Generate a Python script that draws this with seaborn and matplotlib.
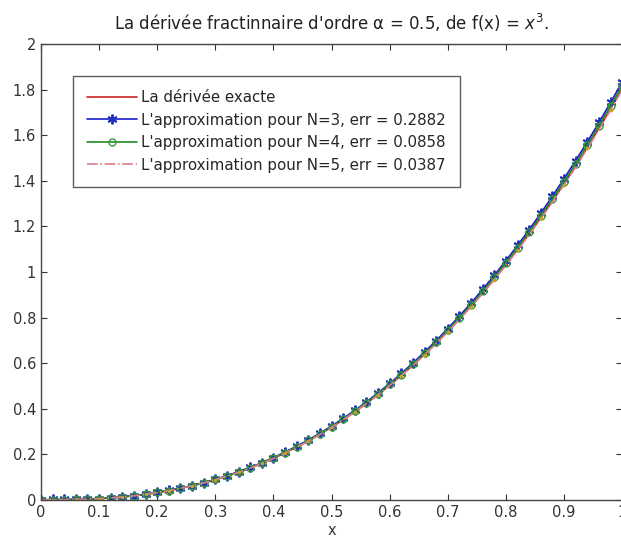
import matplotlib
matplotlib.use("Agg")
import matplotlib.pyplot as plt
import seaborn as sns
import numpy as np
import pandas as pd
from matplotlib.ticker import FormatStrFormatter

# x grid (step 0.02) and curves
x = np.linspace(0, 1, 51)

exact = [0.0000, 0.0001, 0.0006, 0.0016, 0.0033, 0.0057, 0.0090, 0.0132, 0.0185, 0.0248,
         0.0323, 0.0410, 0.0509, 0.0622, 0.0749, 0.0890, 0.1046, 0.1217, 0.1404, 0.1607,
         0.1827, 0.2064, 0.2318, 0.2591, 0.2882, 0.3192, 0.3520, 0.3869, 0.4237, 0.4625,
         0.5034, 0.5465, 0.5916, 0.6389, 0.6884, 0.7401, 0.7942, 0.8505, 0.9091, 0.9701,
         1.0335, 1.0993, 1.1676, 1.2383, 1.3115, 1.3873, 1.4657, 1.5467, 1.6303, 1.7165,
         1.8054]
approx_n3 = [0.000, 0.002, 0.002, 0.003, 0.004, 0.006, 0.009, 0.013, 0.019, 0.025,
             0.033, 0.042, 0.052, 0.063, 0.076, 0.090, 0.106, 0.124, 0.143, 0.163,
             0.186, 0.210, 0.236, 0.263, 0.293, 0.324, 0.358, 0.393, 0.430, 0.470,
             0.511, 0.555, 0.601, 0.649, 0.699, 0.752, 0.807, 0.864, 0.924, 0.986,
             1.050, 1.117, 1.186, 1.258, 1.333, 1.410, 1.489, 1.571, 1.656, 1.744,
             1.834]
approx_n4 = [0.000, 0.001, 0.001, 0.002, 0.003, 0.006, 0.009, 0.013, 0.019, 0.025,
             0.033, 0.041, 0.051, 0.063, 0.075, 0.090, 0.105, 0.123, 0.141, 0.162,
             0.184, 0.208, 0.233, 0.261, 0.290, 0.321, 0.354, 0.390, 0.427, 0.466,
             0.507, 0.550, 0.596, 0.643, 0.693, 0.745, 0.800, 0.856, 0.915, 0.977,
             1.041, 1.107, 1.176, 1.247, 1.321, 1.397, 1.476, 1.558, 1.642, 1.729,
             1.818]
approx_n5 = [0.000, 0.000, 0.001, 0.002, 0.003, 0.006, 0.009, 0.013, 0.018, 0.025,
             0.032, 0.041, 0.051, 0.062, 0.075, 0.089, 0.104, 0.121, 0.140, 0.160,
             0.182, 0.206, 0.231, 0.258, 0.287, 0.318, 0.351, 0.386, 0.422, 0.461,
             0.502, 0.545, 0.590, 0.637, 0.686, 0.738, 0.792, 0.848, 0.906, 0.967,
             1.030, 1.096, 1.164, 1.235, 1.308, 1.383, 1.461, 1.542, 1.625, 1.711,
             1.800]

labels = ["La dérivée exacte",
          "L'approximation pour N=3, err = 0.2882",
          "L'approximation pour N=4, err = 0.0858",
          "L'approximation pour N=5, err = 0.0387"]

sns.set_style("ticks")
plt.rcParams["font.family"] = ["DejaVu Sans"]
plt.rcParams["xtick.direction"] = "in"
plt.rcParams["ytick.direction"] = "in"

fig = plt.figure(figsize=(6.21, 5.44), dpi=100)
ax = fig.add_axes([0.066, 0.081, 0.936, 0.838])

df = pd.DataFrame({"x": x, "exact": exact, "n3": approx_n3, "n4": approx_n4, "n5": approx_n5})

sns.lineplot(data=df, x="x", y="exact", ax=ax, color="#cc2222", lw=1.2, label=labels[0])
sns.lineplot(data=df, x="x", y="n3", ax=ax, color="#1a1acc", lw=1.2, marker=(6, 2, 0),
             markersize=7, markeredgewidth=1.4, markeredgecolor="#2233bb", label=labels[1])
sns.lineplot(data=df, x="x", y="n4", ax=ax, color="#1e8a1e", lw=1.2, marker="o",
             markersize=5, markerfacecolor="none", markeredgecolor="#3a9a3a",
             markeredgewidth=1.0, label=labels[2])
sns.lineplot(data=df, x="x", y="n5", ax=ax, color="#e07a8a", lw=1.2, linestyle="-.",
             marker=".", markersize=4, markeredgecolor="#c8a030", markerfacecolor="#c8a030",
             markevery=(1, 2), label=labels[3])

ax.set_xlim(0, 1)
ax.set_ylim(0, 2)
ax.set_xticks(np.arange(0, 1.01, 0.1))
ax.set_yticks(np.arange(0, 2.01, 0.2))
ax.xaxis.set_major_formatter(FormatStrFormatter("%g"))
ax.yaxis.set_major_formatter(FormatStrFormatter("%g"))
ax.tick_params(top=True, right=True, labelsize=10.5, length=4, colors="#333333", labelcolor="#333333")
for s in ax.spines.values():
    s.set_color("#444444")
    s.set_linewidth(1.0)

ax.set_xlabel("x", fontsize=10.5, color="#333333", labelpad=2)
ax.set_ylabel("")
ax.set_title("La dérivée fractinnaire d'ordre α = 0.5, de f(x) = $x^3$.", fontsize=12,
             color="#222222", pad=10)

leg = ax.legend(loc="upper left", bbox_to_anchor=(0.055, 0.93), borderaxespad=0,
                fontsize=10.8, frameon=True, fancybox=False, edgecolor="#333333",
                handlelength=3.3, handletextpad=0.3, labelspacing=0.5, borderpad=0.95)
leg.get_frame().set_linewidth(1.0)
# legend shows no marker for the N=5 entry
leg.legend_handles[3].set_marker("")

fig.savefig("out.png", dpi=100)
